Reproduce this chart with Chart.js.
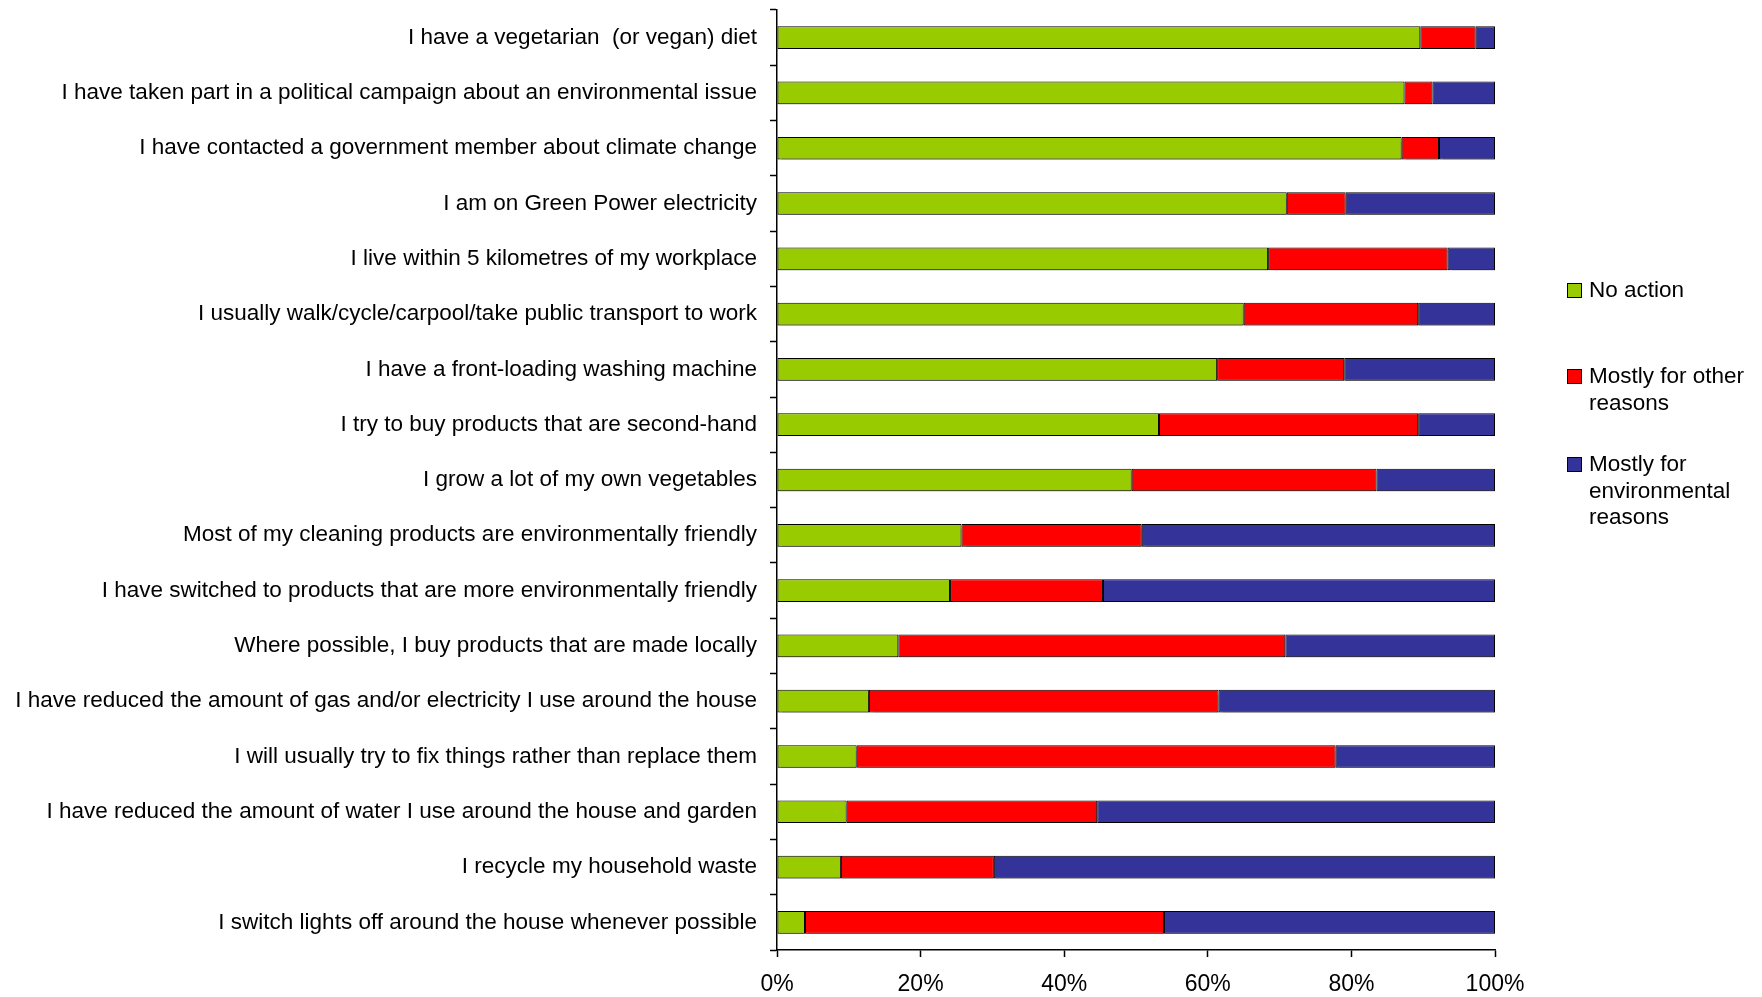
<!DOCTYPE html>
<html>
<head>
<meta charset="utf-8">
<title>Environmental actions and reasons</title>
<script src="https://cdn.jsdelivr.net/npm/chart.js@4/dist/chart.umd.min.js"></script>
<style>
  html, body { margin: 0; padding: 0; background: #fff; }
  #wrap { position: relative; width: 1762px; height: 997px; }
  #legend { position: absolute; left: 0; top: 0; font-family: "Liberation Sans", Arial, sans-serif; font-size: 22.5px; color: #000; }
  .item { position: absolute; left: 1567px; line-height: 26.5px; white-space: nowrap; }
  .sw { position: absolute; left: 0; top: 6px; width: 13px; height: 13px; border: 1px solid #000; }
  .txt { position: absolute; left: 22px; top: 0; }
</style>
</head>
<body>
<div id="wrap">
  <canvas id="chart"></canvas>
  <div id="legend"></div>
</div>
<script>
// Statements, listed top to bottom
const categories = [
  "I have a vegetarian  (or vegan) diet",
  "I have taken part in a political campaign about an environmental issue",
  "I have contacted a government member about climate change",
  "I am on Green Power electricity",
  "I live within 5 kilometres of my workplace",
  "I usually walk/cycle/carpool/take public transport to work",
  "I have a front-loading washing machine",
  "I try to buy products that are second-hand",
  "I grow a lot of my own vegetables",
  "Most of my cleaning products are environmentally friendly",
  "I have switched to products that are more environmentally friendly",
  "Where possible, I buy products that are made locally",
  "I have reduced the amount of gas and/or electricity I use around the house",
  "I will usually try to fix things rather than replace them",
  "I have reduced the amount of water I use around the house and garden",
  "I recycle my household waste",
  "I switch lights off around the house whenever possible"
];

// Share of respondents (%) per answer
const noAction      = [89.6, 87.4, 87.0, 71.0, 68.4, 65.0, 61.3, 53.2, 49.4, 25.7, 24.1, 16.9, 12.8, 11.1,  9.7,  8.9,  3.9];
const otherReasons  = [ 7.7,  3.9,  5.2,  8.2, 25.0, 24.3, 17.7, 36.1, 34.1, 25.1, 21.3, 53.9, 48.7, 66.7, 34.9, 21.3, 50.0];
const envReasons    = [ 2.7,  8.7,  7.8, 20.8,  6.6, 10.7, 21.0, 10.7, 16.5, 49.2, 54.6, 29.2, 38.5, 22.2, 55.4, 69.8, 46.1];

const seriesNames = ["No action", "Mostly for other reasons", "Mostly for environmental reasons"];
const legendLines = [["No action"], ["Mostly for other", "reasons"], ["Mostly for", "environmental", "reasons"]];
const xTicks = [0, 20, 40, 60, 80, 100];

const colors = ["#99CC00", "#FF0000", "#333399"];
const FONT = "'Liberation Sans', Arial, sans-serif";

// Excel-like soft drop shadow under the bars
const barShadow = {
  id: 'barShadow',
  beforeDatasetsDraw(chart) {
    const ctx = chart.ctx;
    ctx.save();
    ctx.shadowColor = 'rgba(0,0,0,0.28)';
    ctx.shadowOffsetX = 1;
    ctx.shadowOffsetY = 2;
    ctx.shadowBlur = 1;
  },
  afterDatasetsDraw(chart) {
    chart.ctx.restore();
  }
};

const values = [noAction, otherReasons, envReasons];
const datasets = values.map((v, i) => ({
  label: seriesNames[i],
  data: v,
  backgroundColor: colors[i],
  borderColor: "#000",
  borderWidth: 1,
  borderSkipped: false,
  barPercentage: 0.41,
  categoryPercentage: 1.0
}));

new Chart(document.getElementById('chart'), {
  type: 'bar',
  data: { labels: categories, datasets },
  options: {
    indexAxis: 'y',
    responsive: true,
    maintainAspectRatio: false,
    animation: false,
    layout: { padding: { top: 10, right: 267, bottom: 0, left: 0 } },
    plugins: {
      legend: { display: false },
      tooltip: { enabled: false }
    },
    scales: {
      x: {
        stacked: true,
        min: 0,
        max: 100,
        afterBuildTicks(scale) { scale.ticks = xTicks.map(v => ({ value: v })); },
        afterFit(scale) { scale.height = 47; },
        ticks: {
          callback: v => v + '%',
          color: '#000',
          font: { family: FONT, size: 23 },
          padding: 14,
          maxRotation: 0
        },
        grid: { drawOnChartArea: false, color: '#000', tickLength: 7, tickWidth: 1.5 },
        border: { display: true, color: '#000', width: 1.5 }
      },
      y: {
        stacked: true,
        afterFit(scale) {
          scale.width = 777;
          scale.paddingTop = 0;
          scale.paddingBottom = 0;
        },
        ticks: {
          color: '#000',
          font: { family: FONT, size: 22.5 },
          padding: 13,
          autoSkip: false
        },
        grid: { drawOnChartArea: false, offset: true, color: '#000', tickLength: 7, tickWidth: 1.5 },
        border: { display: true, color: '#000', width: 1.5 }
      }
    }
  },
  plugins: [barShadow]
});

// Legend on the right, with wrapped entries
const legendTops = [277, 363, 451];
const legend = document.getElementById('legend');
legendLines.forEach((lines, i) => {
  const item = document.createElement('div');
  item.className = 'item';
  item.style.top = legendTops[i] + 'px';
  const sw = document.createElement('span');
  sw.className = 'sw';
  sw.style.background = colors[i];
  const txt = document.createElement('span');
  txt.className = 'txt';
  txt.innerHTML = lines.join('<br>');
  item.appendChild(sw);
  item.appendChild(txt);
  legend.appendChild(item);
});
</script>
</body>
</html>
